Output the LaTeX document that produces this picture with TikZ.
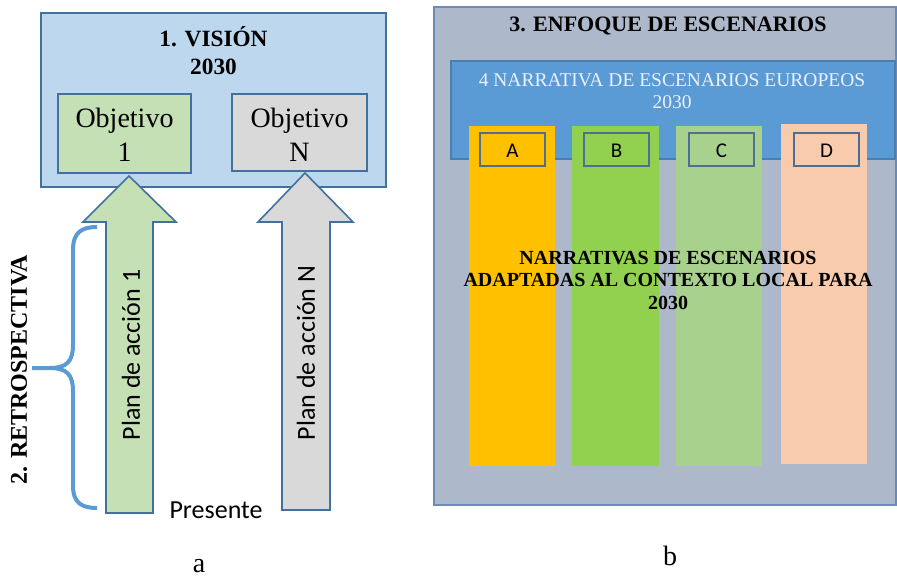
\documentclass[tikz,border=0pt]{standalone}
\usepackage{fontspec}
\setmainfont{Liberation Serif}
\newfontfamily\calibrifont{Carlito}
\definecolor{visionfill}{HTML}{BDD7EE}
\definecolor{boxline}{HTML}{41719C}
\definecolor{objgreen}{HTML}{C5E0B4}
\definecolor{objgray}{HTML}{D9D9D9}
\definecolor{bracecol}{HTML}{5B9BD5}
\definecolor{panelfill}{HTML}{ADB9CA}
\definecolor{panelline}{HTML}{6A8BB5}
\definecolor{eurofill}{HTML}{5B9BD5}
\definecolor{euroline}{HTML}{4A7EB0}
\definecolor{eurotext}{HTML}{EAF1FA}
\definecolor{colA}{HTML}{FFC000}
\definecolor{colB}{HTML}{92D050}
\definecolor{colC}{HTML}{A9D18E}
\definecolor{colD}{HTML}{F8CBAD}
\definecolor{letterline}{HTML}{4E6E95}
\tikzset{
  outline/.style={draw=boxline, line width=1.6pt},
  objbox/.style={outline},
  bigarrow/.style={draw=boxline, line width=1.6pt, line join=miter},
  letterbox/.style={draw=letterline, line width=1.6pt},
  letterfont/.style={font=\calibrifont\fontsize{21}{24}\selectfont},
  serifbold/.style={font=\fontsize{23.3}{28}\selectfont\bfseries},
  objtext/.style={font=\fontsize{28}{34}\selectfont, align=center},
  sanstext/.style={font=\calibrifont\fontsize{26}{30}\selectfont},
}
\begin{document}
\begin{tikzpicture}[x=1pt,y=-1pt]
\useasboundingbox (0,0) rectangle (897,577);
% ---------- panel a ----------
\draw[outline, fill=visionfill] (41,13) rectangle (386,187);
\node[serifbold, align=center] (vision) at (213.5,51) {1. VISIÓN\\2030};
\draw[objbox, fill=objgreen] (58,94) rectangle (191,173);
\node[objtext] (obj1) at (124.5,135) {Objetivo\\1};
\draw[objbox, fill=objgray] (232,94) rectangle (367,171);
\node[objtext] (objN) at (299.5,135) {Objetivo\\N};
% arrows
\draw[bigarrow, fill=objgreen] (129,176) -- (176,222) -- (153,222) -- (153,513) -- (106,513) -- (106,222) -- (83,222) -- cycle;
\draw[bigarrow, fill=objgray] (305,173) -- (353,222) -- (330,222) -- (330,510) -- (282,510) -- (282,222) -- (258,222) -- cycle;
\node[sanstext, rotate=90] (plan1) at (131,355) {Plan de acción 1};
\node[sanstext, rotate=90] (planN) at (306,353) {Plan de acción N};
% brace
\draw[bracecol, line width=4pt, line cap=butt]
  (97,227) .. controls (82,227) and (73,232) .. (73,250) -- (73,345)
  .. controls (73,362) and (66,368) .. (50,368) -- (32,368);
\draw[bracecol, line width=4pt]
  (97,508) .. controls (82,508) and (73,503) .. (73,486) -- (73,391)
  .. controls (73,374) and (66,368) .. (50,368);
\node[serifbold, font=\fontsize{24}{28}\selectfont\bfseries, rotate=90] (retro) at (19,370) {2. RETROSPECTIVA};
\node[sanstext] (presente) at (216,510) {Presente};
\node[font=\fontsize{28}{32}\selectfont] (la) at (199,566) {a};
% ---------- panel b ----------
\draw[draw=panelline, line width=1.5pt, fill=panelfill] (434,7) rectangle (896,505);
\node[font=\fontsize{22}{28}\selectfont\bfseries] (enfoque) at (668,26) {3. ENFOQUE DE ESCENARIOS};
\draw[draw=euroline, line width=1.5pt, fill=eurofill] (451,61) rectangle (895,159);
\node[font=\fontsize{19.5}{22}\selectfont, text=eurotext, align=center] (euro) at (672,91) {4 NARRATIVA DE ESCENARIOS EUROPEOS\\2030};
\fill[colA] (469,126) rectangle (555,466);
\fill[colB] (572,126) rectangle (659,466);
\fill[colC] (676,126) rectangle (762,466);
\fill[colD] (781,124) rectangle (867,464);
\draw[letterbox] (480,133) rectangle (545,166);
\draw[letterbox] (584,133) rectangle (649,166);
\draw[letterbox] (689,133) rectangle (754,166);
\draw[letterbox] (794,133) rectangle (859,166);
\node[letterfont] (lA) at (512.5,151) {A};
\node[letterfont] (lB) at (616.5,151) {B};
\node[letterfont] (lC) at (721.5,151) {C};
\node[letterfont] (lD) at (826.5,151) {D};
\node[font=\fontsize{20}{22.5}\selectfont\bfseries, align=center] (local) at (668,280) {NARRATIVAS DE ESCENARIOS\\ADAPTADAS AL CONTEXTO LOCAL PARA\\2030};
\node[font=\fontsize{28}{32}\selectfont] (lb) at (670,556) {b};
\end{tikzpicture}
\end{document}
